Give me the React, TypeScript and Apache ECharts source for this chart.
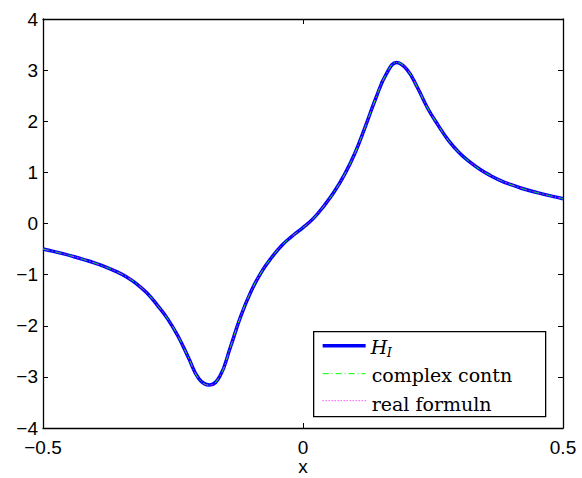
import React, { useEffect, useRef } from "react";
import * as echarts from "echarts";

// Sample abscissae (step 0.02) and the H_I values at them
const xs = [
  -0.5, -0.48, -0.46, -0.44, -0.42, -0.4, -0.38, -0.36, -0.34, -0.32, -0.3,
  -0.28, -0.26, -0.24, -0.22, -0.2, -0.18, -0.16, -0.14, -0.12, -0.1, -0.08,
  -0.06, -0.04, -0.02, 0, 0.02, 0.04, 0.06, 0.08, 0.1, 0.12, 0.14, 0.16, 0.18,
  0.2, 0.22, 0.24, 0.26, 0.28, 0.3, 0.32, 0.34, 0.36, 0.38, 0.4, 0.42, 0.44,
  0.46, 0.48, 0.5,
];
const hI = [
  -0.5, -0.545, -0.595, -0.65, -0.71, -0.775, -0.85, -0.935, -1.04, -1.18, -1.36,
  -1.6, -1.87, -2.21, -2.63, -3.04, -3.16, -2.99, -2.43, -1.82, -1.33, -0.95,
  -0.66, -0.42, -0.24, -0.08, 0.1, 0.34, 0.62, 0.96, 1.38, 1.9, 2.45, 2.92, 3.15,
  3.01, 2.66, 2.25, 1.92, 1.62, 1.39, 1.21, 1.06, 0.94, 0.84, 0.76, 0.69, 0.63,
  0.58, 0.53, 0.485,
];
// The complex continuation and the real formulation give the same values
const complexContn = hI.slice();
const realFormuln = hI.slice();

const xTicks = [-0.5, 0, 0.5];
const yTicks = [-4, -3, -2, -1, 0, 1, 2, 3, 4];

const seriesNames = ["H_I", "complex contn", "real formuln"];

const pairs = (ys: number[]) => xs.map((x, i) => [x, ys[i]]);

const fmt = (v: number) => (v < 0 ? "\u2212" + String(-v) : String(v));

export default function App() {
  const ref = useRef<HTMLDivElement>(null);

  useEffect(() => {
    if (!ref.current) return;
    const chart = echarts.init(ref.current, null, { renderer: "svg" });
    const labelFont = { fontFamily: "Liberation Sans, Arial, sans-serif", fontSize: 19, color: "#000" };
    const axisLine = { show: true, onZero: false, lineStyle: { color: "#000", width: 1.3 } };
    const tick = { show: true, inside: true, length: 5, lineStyle: { color: "#000", width: 1 } };

    const xBase = {
      type: "value" as const,
      min: xTicks[0],
      max: xTicks[xTicks.length - 1],
      interval: 0.5,
      axisLine,
      axisTick: tick,
      splitLine: { show: false },
    };
    const yBase = {
      type: "value" as const,
      min: yTicks[0],
      max: yTicks[yTicks.length - 1],
      interval: 1,
      axisLine,
      axisTick: tick,
      splitLine: { show: false },
    };

    const legendFont = "19px 'DejaVu Serif', 'Liberation Serif', serif";
    const lineSmooth = 0.45;

    chart.setOption({
      animation: false,
      backgroundColor: "#fff",
      grid: {
        left: 43,
        right: 19,
        top: 19,
        bottom: 50,
        containLabel: false,
        outerBoundsMode: "none",
      },
      xAxis: [
        {
          ...xBase,
          position: "bottom",
          name: "x",
          nameLocation: "middle",
          nameGap: 29,
          nameMoveOverlap: false,
          nameTextStyle: labelFont,
          axisLabel: { ...labelFont, margin: 10, formatter: (v: number) => fmt(v) },
        },
        { ...xBase, position: "top", axisLabel: { show: false } },
      ],
      yAxis: [
        {
          ...yBase,
          position: "left",
          axisLabel: { ...labelFont, margin: 5, padding: [5, 0, 0, 0], formatter: (v: number) => fmt(v) },
        },
        { ...yBase, position: "right", axisLabel: { show: false } },
      ],
      series: [
        {
          name: seriesNames[0],
          type: "line",
          data: pairs(hI),
          smooth: lineSmooth,
          symbol: "none",
          lineStyle: { color: "#0000ff", width: 3.5 },
          z: 2,
        },
        {
          name: seriesNames[1],
          type: "line",
          data: pairs(complexContn),
          smooth: lineSmooth,
          symbol: "none",
          lineStyle: { color: "#00ff00", width: 1, type: [6, 3, 1, 3] },
          z: 3,
        },
        {
          name: seriesNames[2],
          type: "line",
          data: pairs(realFormuln),
          smooth: lineSmooth,
          symbol: "none",
          lineStyle: { color: "#ff00ff", width: 1, type: [1, 2] },
          z: 4,
        },
      ],
      graphic: [
        {
          type: "group",
          left: 313,
          top: 331,
          z: 100,
          children: [
            {
              type: "rect",
              shape: { x: 0, y: 0, width: 232, height: 85 },
              style: { fill: "#fff", stroke: "#000", lineWidth: 1.3 },
            },
            {
              type: "line",
              shape: { x1: 9, y1: 14, x2: 52, y2: 14 },
              style: { stroke: "#0000ff", lineWidth: 3.5 },
            },
            {
              type: "text",
              x: 57,
              y: 15,
              style: {
                text: "H",
                font: "italic 19px 'DejaVu Serif', 'Liberation Serif', serif",
                fill: "#000",
                verticalAlign: "middle",
              },
            },
            {
              type: "text",
              x: 73,
              y: 21,
              style: {
                text: "I",
                font: "italic 13px 'DejaVu Serif', 'Liberation Serif', serif",
                fill: "#000",
                verticalAlign: "middle",
              },
            },
            {
              type: "line",
              shape: { x1: 9, y1: 42, x2: 52, y2: 42 },
              style: { stroke: "#00ff00", lineWidth: 1, lineDash: [6, 3, 1, 3] },
            },
            {
              type: "text",
              x: 58,
              y: 43,
              style: { text: seriesNames[1], font: legendFont, fill: "#000", verticalAlign: "middle" },
            },
            {
              type: "line",
              shape: { x1: 9, y1: 69, x2: 52, y2: 69 },
              style: { stroke: "#ff00ff", lineWidth: 1, lineDash: [1, 2] },
            },
            {
              type: "text",
              x: 58,
              y: 72,
              style: { text: seriesNames[2], font: legendFont, fill: "#000", verticalAlign: "middle" },
            },
          ],
        },
      ],
    });
    return () => chart.dispose();
  }, []);

  return <div ref={ref} style={{ width: 582, height: 478, position: "absolute", left: 0, top: 0 }} />;
}
